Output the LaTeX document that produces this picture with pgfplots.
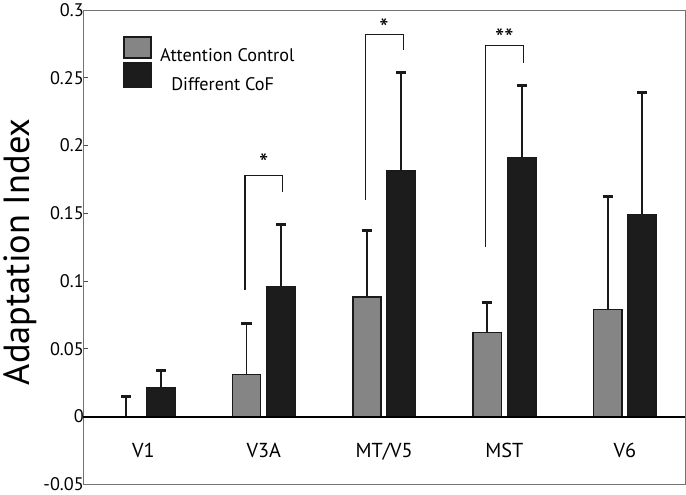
\documentclass[border=0pt]{standalone}
\usepackage{pgfplots}
\pgfplotsset{compat=1.18}
\usepackage{pgfplotstable}
\usepackage{fontspec}
\setmainfont{PT Sans}
\definecolor{barGray}{HTML}{858585}
\definecolor{barBlack}{HTML}{1C1C1C}
\definecolor{edge}{HTML}{1A1A1A}

\pgfplotstableread{
x y e
0 0.000 0.015
1 0.031 0.038
2 0.088 0.049
3 0.062 0.022
4 0.079 0.083
}\grayData
\pgfplotstableread{
x y e
0 0.021 0.013
1 0.096 0.046
2 0.181 0.073
3 0.191 0.053
4 0.149 0.090
}\blackData

\begin{document}
\begin{tikzpicture}
\begin{axis}[
  scale only axis, width=595pt, height=469pt,
  xmin=-0.5, xmax=4.5, ymin=-0.05, ymax=0.3,
  axis line style={draw=black!55, line width=0.8pt},
  ytick={-0.05,0,0.05,0.1,0.15,0.2,0.25,0.3},
  yticklabels={-0.05,0,0.05,0.1,0.15,0.2,0.25,0.3},
  /pgf/number format/assume math mode=true,
  ytick pos=left, tick align=inside, major tick length=5pt,
  ytick style={black!70, line width=0.8pt},
  yticklabel style={font=\fontsize{18}{22}\selectfont, xshift=4pt},
  xtick={0,1,2,3,4}, xticklabels={V1,V3A,MT/V5,MST,V6},
  xtick style={draw=none},
  xticklabel style={font=\fontsize{20}{24}\selectfont, anchor=base, yshift=26pt},
  ylabel={Adaptation Index},
  ylabel style={font=\fontsize{36}{42}\selectfont, at={(ticklabel cs:0.49)}},
  legend style={draw=none, fill=none, at={(axis description cs:0.066,0.945)}, anchor=north west,
    font=\fontsize{18}{22}\selectfont, row sep=-3pt, column sep=6pt, inner sep=0pt},
  legend cell align=left,
  clip=false,
]
\addplot[ybar, bar width=0.235, bar shift=0pt, fill=barGray, draw=edge, line width=1.6pt,
  legend image code/.code={\draw[fill=barGray, draw=edge, line width=1.6pt] (0pt,-2pt) rectangle (27pt,19pt);},
  error bars/.cd, y dir=plus, y explicit,
  error bar style={line width=1.8pt, edge},
  error mark options={rotate=90, line width=3pt, mark size=5pt, edge}]
  table[x expr=\thisrow{x}-0.143, y=y, y error=e]{\grayData};
\addlegendentry{Attention Control}
\addplot[ybar, bar width=0.235, bar shift=0pt, fill=barBlack, draw=edge, line width=1.6pt,
  legend image code/.code={\draw[fill=barBlack, draw=edge, line width=1.6pt] (0pt,-3pt) rectangle (27pt,21pt);},
  error bars/.cd, y dir=plus, y explicit,
  error bar style={line width=1.8pt, edge},
  error mark options={rotate=90, line width=3pt, mark size=5pt, edge}]
  table[x expr=\thisrow{x}+0.143, y=y, y error=e]{\blackData};
\addlegendentry{\hspace{11pt}Different CoF}

\draw[black, line width=2pt] (axis cs:-0.5,0) -- (axis cs:4.5,0);

\draw[edge, line width=1.2pt] (axis cs:0.845,0.0935) -- (axis cs:0.845,0.178) -- (axis cs:1.155,0.178) -- (axis cs:1.155,0.166);
\draw[edge, line width=1.2pt] (axis cs:1.845,0.160) -- (axis cs:1.845,0.2816) -- (axis cs:2.16,0.2816) -- (axis cs:2.16,0.2707);
\draw[edge, line width=1.2pt] (axis cs:2.842,0.125) -- (axis cs:2.842,0.2736) -- (axis cs:3.155,0.2736) -- (axis cs:3.155,0.2607);
\node[font=\fontsize{26}{28}\selectfont, anchor=base, inner sep=0pt] at (axis cs:1,0.180) {*};
\node[font=\fontsize{26}{28}\selectfont, anchor=base, inner sep=0pt] at (axis cs:2,0.280) {*};
\node[font=\fontsize{26}{28}\selectfont, anchor=base, inner sep=0pt] at (axis cs:3,0.272) {**};
\end{axis}
\end{tikzpicture}
\end{document}
